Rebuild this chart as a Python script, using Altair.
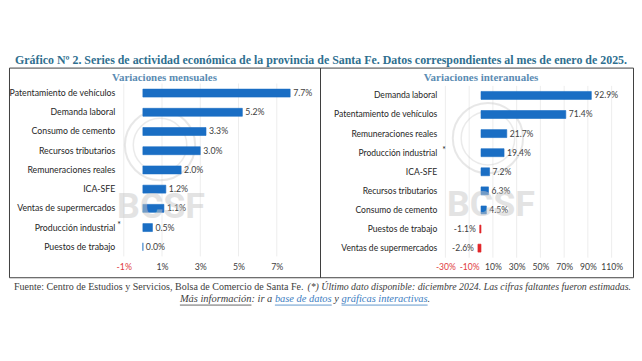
import altair as alt
import pandas as pd

# ---------------- data ----------------
m_cats = ["Patentamiento de vehículos", "Demanda laboral", "Consumo de cemento",
          "Recursos tributarios", "Remuneraciones reales", "ICA-SFE",
          "Ventas de supermercados", "Producción industrial", "Puestos de trabajo"]
m_vals = [7.7, 5.2, 3.3, 3.0, 2.0, 1.2, 1.1, 0.5, 0.0]
m_ticks = [-1, 1, 3, 5, 7]

i_cats = ["Demanda laboral", "Patentamiento de vehículos", "Remuneraciones reales",
          "Producción industrial", "ICA-SFE", "Recursos tributarios",
          "Consumo de cemento", "Puestos de trabajo", "Ventas de supermercados"]
i_vals = [92.9, 71.4, 21.7, 19.4, 7.2, 6.3, 4.5, -1.1, -2.6]
i_ticks = [-30, -10, 10, 30, 50, 70, 90, 110]

title_text = ("Gráfico Nº 2. Series de actividad económica de la provincia de Santa Fe. "
              "Datos correspondientes al mes de enero de 2025.")
sub_m = "Variaciones mensuales"
sub_i = "Variaciones interanuales"
star_cat = "Producción industrial"
watermark = "BCSF"

foot_a = "Fuente: Centro de Estudios y Servicios, Bolsa de Comercio de Santa Fe."
foot_b = "(*) Último dato disponible: diciembre 2024. Las cifras faltantes fueron estimadas."
foot_c1 = "Más información"
foot_c2 = ": ir a"
foot_c3 = "base de datos"
foot_c4 = "y"
foot_c5 = "gráficas interactivas"
foot_c6 = "."

# ---------------- styles ----------------
BLUE = "#1a6ec4"
RED = "#e2262a"
TXT = "#262626"
GRAY = "#404040"
SUBC = "#5b8cb3"
TITLEC = "#2f6f8f"
LINK = "#3b7dbf"
SANS = "Lato"
SERIF = "Liberation Serif"


def panel(cats, vals, ticks, subtitle, width, xdomain, yrange, label_x, sub_x,
          star_x, wm_x, wm_y, seal_x, seal_y, fs):
    df = pd.DataFrame({"cat": cats, "v": vals})
    df["lbl"] = [f"{v:.1f}%" for v in vals]
    xscale = alt.Scale(domain=xdomain, nice=False, zero=False)
    xaxis = alt.Axis(values=ticks, labelExpr="datum.value + '%'", grid=False,
                     ticks=False, domain=False, offset=-15, labelPadding=0,
                     labelFont=SANS, labelFontSize=fs,
                     labelColor=alt.expr("datum.value < 0 ? '#e0393e' : '#404040'"),
                     title=None)
    yenc = alt.Y("cat:N", scale=alt.Scale(domain=cats, range=yrange), axis=None)

    grid = alt.Chart(pd.DataFrame({"v": ticks})).mark_rule(
        color="#ededed", strokeWidth=1).encode(
        x=alt.X("v:Q", scale=xscale, axis=xaxis),
        y=alt.value(yrange[0]), y2=alt.value(yrange[1]))

    seal1 = alt.Chart(pd.DataFrame({"s": [watermark]})).mark_point(
        shape="circle", size=5000, filled=False, stroke="#bdbdbd",
        strokeWidth=2, opacity=0.35).encode(x=alt.value(seal_x), y=alt.value(seal_y))
    seal2 = alt.Chart(pd.DataFrame({"s": [watermark]})).mark_point(
        shape="circle", size=2900, filled=False, stroke="#bdbdbd",
        strokeWidth=1.5, opacity=0.3).encode(x=alt.value(seal_x), y=alt.value(seal_y))

    bars = alt.Chart(df).mark_bar(size=8, strokeWidth=0.6).encode(
        x=alt.X("v:Q", scale=xscale, axis=xaxis),
        y=yenc,
        color=alt.condition("datum.v < 0", alt.value(RED), alt.value(BLUE)),
        stroke=alt.condition("datum.v < 0", alt.value(RED), alt.value(BLUE)))

    pos_lbl = alt.Chart(df).transform_filter("datum.v >= 0").mark_text(
        align="left", dx=3, font=SANS, fontSize=fs, color=GRAY).encode(
        x=alt.X("v:Q", scale=xscale, axis=xaxis), y=yenc, text="lbl:N")
    neg_lbl = alt.Chart(df).transform_filter("datum.v < 0").mark_text(
        align="right", dx=-4, font=SANS, fontSize=fs, color=GRAY).encode(
        x=alt.X("v:Q", scale=xscale, axis=xaxis), y=yenc, text="lbl:N")

    cat_lbl = alt.Chart(df).mark_text(
        align="right", font=SANS, fontSize=fs, color=TXT).encode(
        x=alt.value(label_x), y=yenc, text="cat:N")

    star = alt.Chart(pd.DataFrame({"cat": [star_cat], "s": ["*"]})).mark_text(
        align="left", dy=-3, font=SANS, fontSize=fs, color=TXT).encode(
        x=alt.value(star_x), y=yenc, text="s:N")

    sub = alt.Chart(pd.DataFrame({"s": [subtitle]})).mark_text(
        font=SERIF, fontSize=11, fontWeight="bold", color=SUBC).encode(
        x=alt.value(sub_x), y=alt.value(10.5), text="s:N")

    wm = alt.Chart(pd.DataFrame({"s": [watermark]})).mark_text(
        font="Roboto", fontSize=36, fontWeight="bold", color="#c8c8c8",
        opacity=0.5).encode(
        x=alt.value(wm_x), y=alt.value(wm_y), text="s:N")

    return alt.layer(grid, seal1, seal2, bars, pos_lbl, neg_lbl, cat_lbl, star,
                     sub, wm).properties(
        width=width, height=211,
        view=alt.ViewBackground(stroke=GRAY, strokeWidth=1))


left = panel(m_cats, m_vals, m_ticks, sub_m, 313, [-7.0, 9.26], [16, 190],
             107, 156.5, 109, 153, 140, 152, 78, 8.8)
right = panel(i_cats, i_vals, i_ticks, sub_i, 315, [-135.6, 128.0], [18.4, 191.3],
              118, 162, 123, 172, 138, 169, 71, 8.6)


def ftext(s, x, y, align="left", italic=False, color=GRAY, size=10.5):
    return alt.Chart(pd.DataFrame({"s": [s]})).mark_text(
        align=align, baseline="middle", font=SERIF, fontSize=size,
        fontStyle="italic" if italic else "normal", color=color).encode(
        x=alt.value(x), y=alt.value(y), text="s:N")


def uline(x1, x2, y, color):
    return alt.Chart(pd.DataFrame({"s": [0]})).mark_rule(
        color=color, strokeWidth=0.8).encode(
        x=alt.value(x1), x2=alt.value(x2), y=alt.value(y))


footer = alt.layer(
    ftext(foot_a, 5, 9, size=10.1),
    ftext(foot_b, 626, 9, align="right", italic=True, size=9.9),
    ftext(foot_c1, 172, 21, italic=True),
    ftext(foot_c2, 244, 21, italic=True),
    ftext(foot_c3, 267.6, 21, italic=True, color=LINK),
    ftext(foot_c4, 327.4, 21, italic=True),
    ftext(foot_c5, 334.7, 21, italic=True, color=LINK),
    ftext(foot_c6, 421.3, 21, italic=True),
    uline(172, 244, 27, GRAY),
    uline(267.6, 324.8, 27, LINK),
    uline(334.7, 421.3, 27, LINK),
).properties(width=628, height=32,
             view=alt.ViewBackground(stroke="transparent", strokeWidth=0))

chart = alt.vconcat(
    alt.hconcat(left, right, spacing=0, bounds="flush"),
    footer,
    spacing=0,
).properties(
    title=alt.TitleParams(title_text, font=SERIF, fontSize=12, fontWeight="bold",
                          color=TITLEC, anchor="middle", offset=0),
    padding={"left": 0, "top": 45, "right": 0, "bottom": 0},
).configure_view(strokeWidth=0)

chart.save("out.html", embed_options={"renderer": "svg", "actions": False})
